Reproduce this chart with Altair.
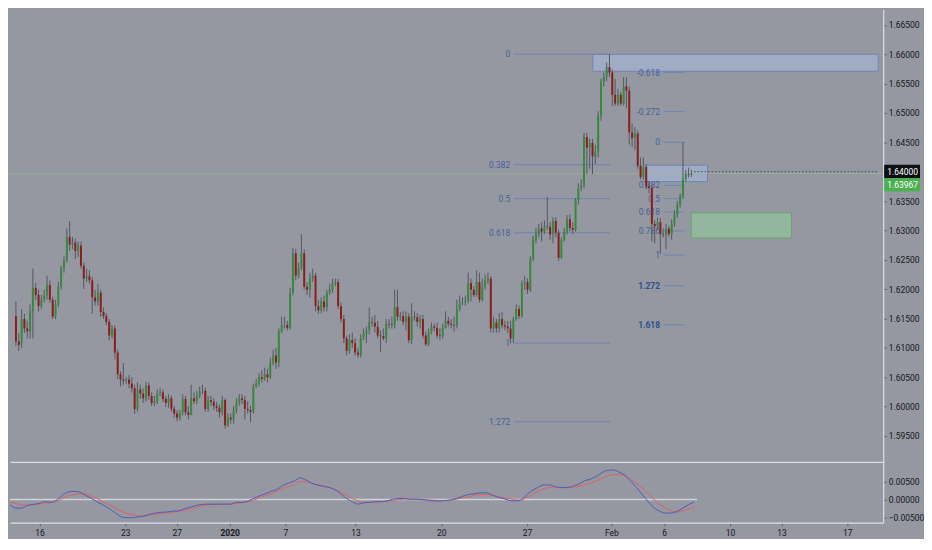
import altair as alt
import pandas as pd

# ---------------- data (GBP/USD-like 4H candles) ----------------
opens = [1.6154,1.6111,1.6108,1.6149,1.6133,1.6128,1.6162,1.6202,1.6190,1.6171,
1.6182,1.6189,1.6207,1.6182,1.6153,1.6174,1.6204,1.6235,1.6248,1.6289,
1.6276,1.6279,1.6265,1.6274,1.6240,1.6218,1.6222,1.6215,1.6186,1.6179,
1.6194,1.6161,1.6154,1.6144,1.6121,1.6133,1.6092,1.6055,1.6046,1.6044,
1.6046,1.6039,1.6031,1.5996,1.6029,1.6022,1.6014,1.6036,1.6018,1.6006,
1.6009,1.6022,1.6024,1.6013,1.6006,1.6014,1.5996,1.5988,1.5981,1.5990,
1.6013,1.5990,1.5986,1.6014,1.6009,1.6018,1.6026,1.6027,1.5996,1.6011,
1.6008,1.6001,1.5998,1.5990,1.6011,1.5968,1.5981,1.5978,1.5993,1.6006,
1.6014,1.6011,1.5996,1.5994,1.5991,1.6034,1.6039,1.6050,1.6047,1.6055,
1.6050,1.6075,1.6087,1.6075,1.6128,1.6138,1.6139,1.6134,1.6194,1.6261,
1.6223,1.6235,1.6261,1.6204,1.6199,1.6218,1.6223,1.6171,1.6164,1.6179,
1.6169,1.6194,1.6199,1.6210,1.6212,1.6171,1.6149,1.6116,1.6095,1.6113,
1.6108,1.6092,1.6088,1.6116,1.6125,1.6130,1.6144,1.6143,1.6136,1.6121,
1.6120,1.6116,1.6141,1.6140,1.6139,1.6169,1.6153,1.6154,1.6144,1.6153,
1.6113,1.6153,1.6152,1.6144,1.6149,1.6121,1.6106,1.6126,1.6136,1.6134,
1.6121,1.6120,1.6134,1.6146,1.6141,1.6139,1.6138,1.6166,1.6177,1.6178,
1.6180,1.6210,1.6199,1.6190,1.6212,1.6182,1.6204,1.6215,1.6218,1.6133,
1.6143,1.6133,1.6149,1.6138,1.6136,1.6133,1.6116,1.6149,1.6166,1.6154,
1.6210,1.6212,1.6199,1.6251,1.6284,1.6294,1.6303,1.6298,1.6307,1.6306,
1.6293,1.6316,1.6296,1.6253,1.6284,1.6298,1.6319,1.6304,1.6301,1.6352,
1.6372,1.6377,1.6459,1.6441,1.6449,1.6426,1.6434,1.6495,1.6553,1.6561,
1.6578,1.6569,1.6531,1.6516,1.6531,1.6516,1.6545,1.6538,1.6467,1.6457,
1.6465,1.6410,1.6391,1.6408,1.6375,1.6372,1.6311,1.6307,1.6314,1.6294,
1.6293,1.6303,1.6294,1.6311,1.6327,1.6344,1.6358,1.6388,1.6396,1.6395]
highs = [1.6179,1.6125,1.6166,1.6158,1.6146,1.6174,1.6235,1.6210,1.6199,1.6190,
1.6199,1.6223,1.6215,1.6187,1.6182,1.6212,1.6240,1.6256,1.6303,1.6316,
1.6289,1.6286,1.6281,1.6281,1.6245,1.6235,1.6232,1.6220,1.6199,1.6209,
1.6199,1.6169,1.6159,1.6149,1.6139,1.6138,1.6097,1.6060,1.6074,1.6050,
1.6054,1.6050,1.6037,1.6041,1.6037,1.6031,1.6042,1.6041,1.6024,1.6018,
1.6029,1.6031,1.6029,1.6018,1.6021,1.6019,1.6001,1.5994,1.5994,1.6021,
1.6018,1.6001,1.6037,1.6024,1.6027,1.6034,1.6037,1.6032,1.6018,1.6018,
1.6014,1.6008,1.6004,1.6018,1.6014,1.5988,1.5988,1.6001,1.6014,1.6021,
1.6021,1.6018,1.6009,1.6001,1.6039,1.6047,1.6057,1.6062,1.6066,1.6064,
1.6083,1.6097,1.6100,1.6133,1.6153,1.6153,1.6146,1.6202,1.6270,1.6268,
1.6245,1.6294,1.6268,1.6212,1.6228,1.6235,1.6228,1.6182,1.6186,1.6189,
1.6199,1.6209,1.6218,1.6218,1.6217,1.6177,1.6156,1.6121,1.6123,1.6126,
1.6116,1.6100,1.6123,1.6133,1.6136,1.6169,1.6153,1.6156,1.6146,1.6130,
1.6133,1.6149,1.6149,1.6153,1.6199,1.6199,1.6161,1.6162,1.6162,1.6159,
1.6176,1.6162,1.6159,1.6156,1.6156,1.6128,1.6133,1.6143,1.6141,1.6143,
1.6133,1.6141,1.6162,1.6153,1.6149,1.6153,1.6182,1.6189,1.6186,1.6189,
1.6228,1.6218,1.6205,1.6232,1.6228,1.6218,1.6225,1.6228,1.6222,1.6153,
1.6149,1.6159,1.6161,1.6146,1.6146,1.6146,1.6153,1.6174,1.6172,1.6215,
1.6222,1.6218,1.6256,1.6291,1.6304,1.6311,1.6314,1.6317,1.6357,1.6314,
1.6322,1.6322,1.6301,1.6288,1.6304,1.6326,1.6327,1.6314,1.6355,1.6380,
1.6387,1.6466,1.6466,1.6456,1.6456,1.6446,1.6503,1.6558,1.6569,1.6586,
1.6600,1.6574,1.6558,1.6541,1.6536,1.6561,1.6561,1.6545,1.6482,1.6476,
1.6470,1.6424,1.6424,1.6413,1.6383,1.6377,1.6317,1.6322,1.6321,1.6304,
1.6311,1.6307,1.6319,1.6334,1.6350,1.6363,1.6450,1.6403,1.6407,1.6403]
lows = [1.6103,1.6095,1.6100,1.6125,1.6116,1.6116,1.6116,1.6182,1.6162,1.6166,
1.6177,1.6182,1.6177,1.6149,1.6149,1.6169,1.6199,1.6228,1.6245,1.6265,
1.6268,1.6251,1.6255,1.6235,1.6200,1.6212,1.6209,1.6158,1.6172,1.6172,
1.6153,1.6149,1.6139,1.6113,1.6116,1.6080,1.6047,1.6034,1.6037,1.6039,
1.6031,1.6024,1.5988,1.5991,1.6013,1.6006,1.6009,1.6011,1.6001,1.6001,
1.6004,1.6018,1.6008,1.5999,1.5998,1.5991,1.5981,1.5975,1.5976,1.5985,
1.5985,1.5978,1.5985,1.6004,1.6004,1.6014,1.6021,1.5991,1.5991,1.6001,
1.5994,1.5991,1.5981,1.5985,1.5962,1.5965,1.5971,1.5971,1.5988,1.6001,
1.6004,1.5978,1.5988,1.5973,1.5988,1.6031,1.6034,1.6041,1.6044,1.6041,
1.6047,1.6070,1.6064,1.6067,1.6125,1.6133,1.6130,1.6131,1.6189,1.6215,
1.6218,1.6232,1.6199,1.6190,1.6186,1.6212,1.6162,1.6158,1.6159,1.6162,
1.6162,1.6190,1.6194,1.6205,1.6166,1.6143,1.6108,1.6087,1.6090,1.6100,
1.6087,1.6083,1.6083,1.6113,1.6108,1.6123,1.6136,1.6126,1.6116,1.6093,
1.6113,1.6108,1.6133,1.6133,1.6133,1.6146,1.6146,1.6139,1.6130,1.6108,
1.6106,1.6146,1.6136,1.6133,1.6116,1.6103,1.6103,1.6123,1.6128,1.6116,
1.6113,1.6116,1.6133,1.6136,1.6133,1.6128,1.6133,1.6162,1.6172,1.6172,
1.6176,1.6179,1.6186,1.6187,1.6177,1.6179,1.6199,1.6209,1.6126,1.6126,
1.6126,1.6126,1.6133,1.6130,1.6125,1.6108,1.6108,1.6146,1.6149,1.6151,
1.6199,1.6192,1.6195,1.6248,1.6278,1.6288,1.6281,1.6294,1.6301,1.6284,
1.6278,1.6288,1.6248,1.6251,1.6281,1.6293,1.6298,1.6294,1.6298,1.6344,
1.6367,1.6372,1.6396,1.6405,1.6396,1.6413,1.6424,1.6487,1.6545,1.6554,
1.6561,1.6512,1.6512,1.6512,1.6512,1.6513,1.6508,1.6446,1.6442,1.6437,
1.6405,1.6387,1.6387,1.6370,1.6363,1.6281,1.6278,1.6301,1.6260,1.6288,
1.6268,1.6289,1.6284,1.6306,1.6322,1.6339,1.6355,1.6383,1.6390,1.6391]
closes = [1.6111,1.6105,1.6149,1.6133,1.6128,1.6162,1.6202,1.6190,1.6171,1.6182,
1.6189,1.6207,1.6182,1.6153,1.6174,1.6204,1.6235,1.6248,1.6289,1.6276,
1.6279,1.6265,1.6274,1.6240,1.6218,1.6222,1.6215,1.6186,1.6179,1.6194,
1.6161,1.6154,1.6144,1.6121,1.6133,1.6092,1.6055,1.6046,1.6044,1.6046,
1.6039,1.6031,1.5996,1.6029,1.6022,1.6014,1.6036,1.6018,1.6006,1.6009,
1.6022,1.6024,1.6013,1.6006,1.6014,1.5996,1.5988,1.5981,1.5990,1.6013,
1.5990,1.5986,1.6014,1.6009,1.6018,1.6026,1.6027,1.5996,1.6011,1.6008,
1.6001,1.5998,1.5990,1.6011,1.5968,1.5981,1.5978,1.5993,1.6006,1.6014,
1.6011,1.5996,1.5994,1.5991,1.6034,1.6039,1.6050,1.6047,1.6055,1.6050,
1.6075,1.6087,1.6075,1.6128,1.6138,1.6139,1.6134,1.6194,1.6261,1.6223,
1.6235,1.6261,1.6204,1.6199,1.6218,1.6223,1.6171,1.6164,1.6179,1.6169,
1.6194,1.6199,1.6210,1.6212,1.6171,1.6149,1.6116,1.6095,1.6113,1.6108,
1.6092,1.6088,1.6116,1.6125,1.6130,1.6144,1.6143,1.6136,1.6121,1.6120,
1.6116,1.6141,1.6140,1.6139,1.6169,1.6153,1.6154,1.6144,1.6153,1.6113,
1.6153,1.6152,1.6144,1.6149,1.6121,1.6106,1.6126,1.6136,1.6134,1.6121,
1.6120,1.6134,1.6146,1.6141,1.6139,1.6138,1.6166,1.6177,1.6178,1.6180,
1.6210,1.6199,1.6190,1.6212,1.6182,1.6204,1.6215,1.6218,1.6133,1.6143,
1.6133,1.6149,1.6138,1.6136,1.6133,1.6116,1.6149,1.6166,1.6154,1.6210,
1.6212,1.6199,1.6251,1.6284,1.6294,1.6303,1.6298,1.6307,1.6306,1.6293,
1.6316,1.6296,1.6253,1.6284,1.6298,1.6319,1.6304,1.6301,1.6352,1.6372,
1.6377,1.6459,1.6441,1.6449,1.6426,1.6434,1.6495,1.6553,1.6561,1.6578,
1.6569,1.6531,1.6516,1.6531,1.6516,1.6545,1.6538,1.6467,1.6457,1.6465,
1.6410,1.6391,1.6408,1.6375,1.6372,1.6311,1.6307,1.6314,1.6294,1.6293,
1.6303,1.6294,1.6311,1.6327,1.6344,1.6358,1.6388,1.6396,1.6395,1.63967]

# MACD pane (blue = MACD, red = signal), one reading every ~2 bars
macd_vals = [-0.0015,-0.0024,-0.0024,-0.0017,-0.0014,-0.0011,-0.0006,-0.0008,-0.0002,0.0012,
 0.0021,0.0023,0.0021,0.0012,0.0003,-0.0006,-0.0015,-0.0024,-0.0036,-0.0047,
 -0.0051,-0.0051,-0.0049,-0.0047,-0.0042,-0.0038,-0.0036,-0.0035,-0.0033,-0.0032,
 -0.0026,-0.0022,-0.0017,-0.0014,-0.0013,-0.0013,-0.0013,-0.0013,-0.0013,-0.0008,
 -0.0008,-0.0005,0.0003,0.0010,0.0016,0.0023,0.0028,0.0039,0.0046,0.0052,
 0.0061,0.0055,0.0046,0.0041,0.0037,0.0034,0.0028,0.0016,0.0003,-0.0006,
 -0.0013,-0.0009,-0.0008,-0.0006,-0.0006,-0.0004,0.0001,0.0003,0.0003,0.0001,
 0.0001,0.0000,-0.0002,-0.0004,-0.0004,-0.0003,-0.0001,0.0003,0.0009,0.0014,
 0.0016,0.0019,0.0019,0.0014,0.0007,0.0003,-0.0002,-0.0004,-0.0002,0.0012,
 0.0025,0.0034,0.0041,0.0041,0.0036,0.0034,0.0034,0.0037,0.0043,0.0052,
 0.0057,0.0064,0.0075,0.0082,0.0083,0.0077,0.0068,0.0052,0.0034,0.0014,
 -0.0006,-0.0023,-0.0033,-0.0038,-0.0038,-0.0033,-0.0024,-0.0014,-0.0006]
signal_vals = [-0.0006,-0.0011,-0.0015,-0.0015,-0.0014,-0.0013,-0.0011,-0.0008,-0.0005,0.0003,
 0.0010,0.0014,0.0016,0.0014,0.0009,0.0003,-0.0006,-0.0014,-0.0023,-0.0031,
 -0.0038,-0.0042,-0.0045,-0.0047,-0.0044,-0.0042,-0.0040,-0.0038,-0.0036,-0.0033,
 -0.0031,-0.0027,-0.0023,-0.0018,-0.0015,-0.0014,-0.0014,-0.0013,-0.0013,-0.0011,
 -0.0009,-0.0006,-0.0002,0.0005,0.0010,0.0016,0.0023,0.0030,0.0036,0.0043,
 0.0050,0.0050,0.0046,0.0041,0.0039,0.0034,0.0028,0.0021,0.0012,0.0003,
 -0.0004,-0.0008,-0.0008,-0.0008,-0.0006,-0.0005,-0.0002,0.0000,0.0001,0.0001,
 0.0001,0.0000,-0.0001,-0.0002,-0.0003,-0.0003,-0.0002,0.0001,0.0005,0.0007,
 0.0012,0.0014,0.0014,0.0012,0.0009,0.0005,0.0003,0.0000,-0.0002,0.0005,
 0.0014,0.0023,0.0030,0.0034,0.0034,0.0033,0.0033,0.0034,0.0037,0.0041,
 0.0046,0.0052,0.0059,0.0066,0.0070,0.0070,0.0066,0.0057,0.0046,0.0032,
 0.0016,0.0001,-0.0014,-0.0024,-0.0032,-0.0035,-0.0032,-0.0026,-0.0023]

tick_idx = [10, 40, 58, 76.5, 96, 120.5, 150.5, 180.5, 210, 228.5, 251.5, 269.5, 292.5]
tick_lbl = ["16", "23", "27", "2020", "7", "13", "20", "27", "Feb", "6", "10", "13", "17"]

# Fibonacci retracements
fibA_hi, fibA_lo = 1.6600, 1.6108
fibA_levels = [0, 0.382, 0.5, 0.618, 1, 1.272]
fibA_labels = ["0", "0.382", "0.5", "0.618", "1", "1.272"]
fibB_hi, fibB_lo = 1.6450, 1.6258
fibB_levels = [-0.618, -0.272, 0, 0.382, 0.5, 0.618, 0.786, 1, 1.272, 1.618]
fibB_labels = ["-0.618", "-0.272", "0", "0.382", "0.5", "0.618", "0.786", "1", "1.272", "1.618"]

# zones (x in bar units, prices)
zone_x1 = [204.1, 222.2, 238.9]
zone_x2 = [305.1, 244.7, 274.4]
zone_top = [1.6600, 1.6411, 1.6330]
zone_bot = [1.6571, 1.6383, 1.6287]
zone_kind = ["blue", "blue", "green"]

last_price = 1.63967
mark_price = 1.64000

# ---------------- layout / style ----------------
W, H1, H2 = 878, 455, 61
X_DOM = [-0.35, 305.1]
Y_DOM = [1.59056, 1.66763]
M_DOM = [-0.00649, 0.01054]
BG = "#9598a1"
AXC = "#dcdfe6"
LBL = "#141720"
FONT = "Roboto"
GREEN, RED, WICK = "#37893d", "#8c1d1d", "#555860"
FIBC, FIBT = "#6783b6", "#43639c"

XS = alt.Scale(domain=X_DOM, nice=False, zero=False)
YS = alt.Scale(domain=Y_DOM, nice=False, zero=False)
MS = alt.Scale(domain=M_DOM, nice=False, zero=False)

xa_main = alt.Axis(labels=False, ticks=False, grid=False, title=None, domainColor=AXC, domainWidth=1.2)
ya_main = alt.Axis(orient="right", values=[round(1.595 + 0.005 * k, 3) for k in range(15)], format=".5f",
                   grid=False, title=None, tickSize=3, tickColor="#5d606b", labelPadding=2,
                   labelFontSize=8.5, labelColor=LBL, labelFont=FONT, domainColor=AXC,
                   domainWidth=1.2, labelFlush=False, labelOverlap=False)

def X(f):
    return alt.X(f, type="quantitative", scale=XS, axis=xa_main)

def Y(f):
    return alt.Y(f, type="quantitative", scale=YS, axis=ya_main)

cd = pd.DataFrame({"i": list(range(len(closes))), "o": opens, "h": highs, "l": lows, "c": closes})

fa = pd.DataFrame({"lbl": fibA_labels, "p": [fibA_hi - lv * (fibA_hi - fibA_lo) for lv in fibA_levels]})
fa["x1"], fa["x2"], fa["xl"] = 176.2, 210.3, 175.6
fb = pd.DataFrame({"lbl": fibB_labels, "p": [fibB_hi - lv * (fibB_hi - fibB_lo) for lv in fibB_levels]})
fb["x1"], fb["x2"], fb["xl"] = 229.2, 236.6, 228.6
fb["bold"] = fb["lbl"].isin(["1.272", "1.618"])

zones = pd.DataFrame({"x1": zone_x1, "x2": zone_x2, "t": zone_top, "b": zone_bot, "k": zone_kind})

fib_lines = alt.Chart(pd.concat([fa, fb])).mark_rule(color=FIBC, strokeWidth=1, opacity=0.9).encode(
    x=X("x1"), x2="x2", y=Y("p"))
fibA_txt = alt.Chart(fa).mark_text(align="right", baseline="middle", dx=-2, fontSize=8.5, font=FONT,
                                   color=FIBT).encode(x=X("xl"), y=Y("p"), text="lbl:N")
fibB_txt = alt.Chart(fb[~fb["bold"]]).mark_text(align="right", baseline="middle", dx=-2, fontSize=8.5,
                                                font=FONT, color=FIBT).encode(x=X("xl"), y=Y("p"), text="lbl:N")
fibB_txt_b = alt.Chart(fb[fb["bold"]]).mark_text(align="right", baseline="middle", dx=-2, fontSize=8.5,
                                                 font=FONT, fontWeight="bold", color="#2f4f8c").encode(
    x=X("xl"), y=Y("p"), text="lbl:N")

zone_rects = alt.Chart(zones).mark_rect(strokeWidth=1).encode(
    x=X("x1"), x2="x2", y=Y("t"), y2="b",
    fill=alt.Fill("k:N", scale=alt.Scale(domain=["blue", "green"], range=["#a5b3d3", "#93c59a"]), legend=None),
    stroke=alt.Stroke("k:N", scale=alt.Scale(domain=["blue", "green"], range=["#7085b3", "#6aa374"]), legend=None),
    fillOpacity=alt.value(0.7))

pl = pd.DataFrame({"p": [last_price]})
price_line = alt.Chart(pl).mark_rule(color="#9cb89c", strokeWidth=1, opacity=0.6).encode(y=Y("p"))
dl = pd.DataFrame({"p": [mark_price], "x1": [240.0], "x2": [X_DOM[1]]})
dash_line = alt.Chart(dl).mark_rule(color="#454955", strokeWidth=1, strokeDash=[1.5, 2]).encode(
    x=X("x1"), x2="x2", y=Y("p"))

wicks = alt.Chart(cd).mark_rule(color=WICK, strokeWidth=1).encode(x=X("i"), y=Y("l"), y2="h")
bodies = alt.Chart(cd).mark_bar(size=2).encode(
    x=X("i"), y=Y("o"), y2="c",
    color=alt.condition("datum.c >= datum.o", alt.value(GREEN), alt.value(RED)))

box_a = pd.DataFrame({"p": [mark_price], "t": ["1.64000"]})
box_b = pd.DataFrame({"p": [last_price], "t": ["1.63967"]})
boxA = alt.Chart(box_a).mark_point(shape="M-1,-0.389L1,-0.389L1,0.389L-1,0.389Z", size=1296, filled=True,
                                   opacity=1, color="#0c0e12", strokeWidth=0).encode(x=alt.value(W + 19), y=Y("p"))
boxB = alt.Chart(box_b).mark_point(shape="M-1,0.25L1,0.25L1,1.0L-1,1.0Z", size=1296, filled=True,
                                   opacity=1, color="#4caf50", strokeWidth=0).encode(x=alt.value(W + 19), y=Y("p"))
txtA = alt.Chart(box_a).mark_text(align="left", baseline="middle", fontSize=8.5, font=FONT, color="white").encode(
    x=alt.value(W + 4), y=Y("p"), text="t:N")
txtB = alt.Chart(box_b).mark_text(align="left", baseline="middle", dy=11, fontSize=8.5, font=FONT,
                                  color="white").encode(x=alt.value(W + 4), y=Y("p"), text="t:N")

main = alt.layer(zone_rects, fib_lines, fibA_txt, fibB_txt, fibB_txt_b, price_line, dash_line,
                 wicks, bodies, boxA, boxB, txtA, txtB).properties(width=W, height=H1)

# ---------------- MACD pane ----------------
expr = " : ".join([f"datum.value == {v} ? '{t}'" for v, t in zip(tick_idx, tick_lbl)]) + " : ''"
xa_bot = alt.Axis(values=tick_idx, labelExpr=expr, grid=False, title=None, tickSize=3, tickColor="#5d606b",
                  labelFontSize=8.5, labelFont=FONT, labelColor=LBL, labelPadding=3, domainColor=AXC,
                  domainWidth=1.2, labelFlush=False, labelOverlap=False,
                  labelFontWeight={"condition": {"test": "datum.value == 76.5", "value": "bold"}, "value": "normal"})
ya_macd = alt.Axis(orient="right", values=[-0.005, 0.0, 0.005], format=".5f", grid=False, title=None,
                   tickSize=3, tickColor="#5d606b", labelFontSize=8.5, labelFont=FONT, labelColor=LBL,
                   labelPadding=2, domainColor=AXC, domainWidth=1.2, labelFlush=False, labelOverlap=False)

def XM(f):
    return alt.X(f, type="quantitative", scale=XS, axis=xa_bot)

def YM(f):
    return alt.Y(f, type="quantitative", scale=MS, axis=ya_macd)

md = pd.DataFrame({"x": [round(k * 2.029 - 0.34, 3) for k in range(len(macd_vals))],
                   "macd": macd_vals, "sig": signal_vals})
zl = pd.DataFrame({"x1": [X_DOM[0]], "x2": [240.0], "v": [0.0]})

zero_line = alt.Chart(zl).mark_rule(color="#cfd1d8", strokeWidth=1.6).encode(x=XM("x1"), x2="x2", y=YM("v"))
sig_line = alt.Chart(md).mark_line(color="#e0625f", strokeWidth=1, interpolate="monotone").encode(
    x=XM("x"), y=YM("sig"))
macd_line = alt.Chart(md).mark_line(color="#4d5cb8", strokeWidth=1, interpolate="monotone").encode(
    x=XM("x"), y=YM("macd"))

macd = alt.layer(zero_line, sig_line, macd_line).properties(width=W, height=H2)

chart = alt.vconcat(main, macd, spacing=0, bounds="flush").properties(padding=0).configure(
    background=BG).configure_view(stroke=None)

chart.save("out.html", embed_options={"renderer": "svg", "actions": False})
